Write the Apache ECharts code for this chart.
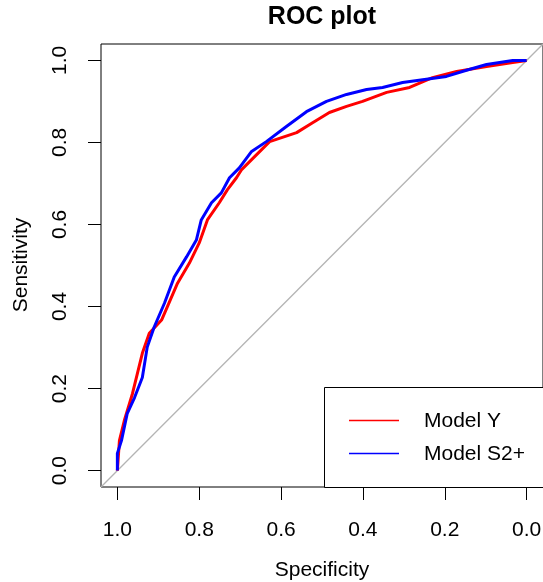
<!DOCTYPE html>
<html>
<head>
<meta charset="utf-8">
<script src="https://cdn.jsdelivr.net/npm/echarts@6/dist/echarts.min.js"></script>
<style>
html,body{margin:0;padding:0;background:#fff;}
#chart{width:543px;height:582px;}
</style>
</head>
<body>
<div id="chart"></div>
<script>
// ---- data ----
const tickValues = [0, 0.2, 0.4, 0.6, 0.8, 1.0];
const seriesNames = ['Model Y', 'Model S2+'];
const specY  = [1.000,0.995,0.983,0.963,0.951,0.939,0.922,0.892,0.878,0.853,0.824,0.800,0.780,0.751,0.731,0.709,0.697,0.672,0.628,0.562,0.523,0.482,0.440,0.401,0.342,0.286,0.230,0.171,0.098,0.034,0.000];
const sensY  = [0.000,0.073,0.122,0.188,0.237,0.286,0.335,0.367,0.399,0.457,0.506,0.555,0.611,0.653,0.685,0.714,0.733,0.758,0.802,0.824,0.848,0.873,0.888,0.900,0.922,0.934,0.958,0.973,0.985,0.995,1.000];
const specS2 = [1.000,1.000,0.990,0.976,0.958,0.939,0.927,0.910,0.885,0.861,0.831,0.807,0.795,0.770,0.746,0.726,0.702,0.672,0.636,0.587,0.538,0.489,0.440,0.391,0.352,0.303,0.254,0.196,0.147,0.098,0.034,0.000];
const sensS2 = [0.000,0.042,0.073,0.139,0.178,0.227,0.301,0.350,0.408,0.472,0.521,0.562,0.611,0.653,0.677,0.714,0.738,0.778,0.802,0.839,0.875,0.900,0.917,0.929,0.934,0.946,0.953,0.961,0.976,0.990,1.000,1.000];
const diagSpec = [1.04, -0.04];
const diagSens = [-0.04, 1.04];

const zip = (a, b) => a.map((v, i) => [v, b[i]]);
const FONT = 'Liberation Sans, Arial, Helvetica, sans-serif';

const chart = echarts.init(document.getElementById('chart'), null, {renderer: 'canvas'});
chart.setOption({
  animation: false,
  backgroundColor: '#fff',
  grid: {left: 101, top: 44, width: 442, height: 443, containLabel: false, outerBoundsMode: 'none',
         show: true, borderColor: '#000', borderWidth: 1, backgroundColor: 'transparent'},
  xAxis: {
    type: 'value', inverse: true, min: -0.04, max: 1.04,
    axisLine: {show: false, onZero: false},
    splitLine: {show: false},
    axisTick: {show: true, inside: false, length: 13, lineStyle: {color: '#000', width: 1}, customValues: tickValues},
    axisLabel: {show: true, margin: 33, fontFamily: FONT, fontSize: 21, color: '#000', customValues: tickValues, formatter: v => v.toFixed(1)}
  },
  yAxis: {
    type: 'value', min: -0.04, max: 1.04,
    axisLine: {show: false, onZero: false},
    splitLine: {show: false},
    axisTick: {show: true, inside: false, length: 13, lineStyle: {color: '#000', width: 1}, customValues: tickValues},
    axisLabel: {show: true, rotate: 90, margin: 30, fontFamily: FONT, fontSize: 21, color: '#000', customValues: tickValues, formatter: v => v.toFixed(1)}
  },
  series: [
    {type: 'line', data: zip(diagSpec, diagSens), showSymbol: false, silent: true, lineStyle: {color: '#B4B4B4', width: 1.3}, z: 1},
    {type: 'line', name: seriesNames[0], data: zip(specY, sensY), showSymbol: false, lineStyle: {color: '#FF0000', width: 3}, z: 2},
    {type: 'line', name: seriesNames[1], data: zip(specS2, sensS2), showSymbol: false, lineStyle: {color: '#0000FF', width: 3}, z: 3}
  ],
  graphic: [
    {type: 'text', x: 322, y: 17, style: {text: 'ROC plot', font: 'bold 25px ' + FONT, fill: '#000', textAlign: 'center', textVerticalAlign: 'middle'}},
    {type: 'text', x: 322, y: 570, style: {text: 'Specificity', font: '21px ' + FONT, fill: '#000', textAlign: 'center', textVerticalAlign: 'middle'}},
    {type: 'text', x: 21, y: 265, rotation: Math.PI / 2, style: {text: 'Sensitivity', font: '21px ' + FONT, fill: '#000', textAlign: 'center', textVerticalAlign: 'middle'}},
    {type: 'rect', shape: {x: 324.5, y: 387.5, width: 240, height: 100}, style: {fill: '#fff', stroke: '#000', lineWidth: 1}, z: 10},
    {type: 'line', shape: {x1: 349, y1: 420.5, x2: 399, y2: 420.5}, style: {stroke: '#FF0000', lineWidth: 1.3}, z: 11},
    {type: 'line', shape: {x1: 349, y1: 453.5, x2: 399, y2: 453.5}, style: {stroke: '#0000FF', lineWidth: 1.3}, z: 11},
    {type: 'text', x: 424, y: 421, style: {text: seriesNames[0], font: '21px ' + FONT, fill: '#000', textAlign: 'left', textVerticalAlign: 'middle'}, z: 11},
    {type: 'text', x: 424, y: 454, style: {text: seriesNames[1], font: '21px ' + FONT, fill: '#000', textAlign: 'left', textVerticalAlign: 'middle'}, z: 11}
  ]
});
</script>
</body>
</html>
